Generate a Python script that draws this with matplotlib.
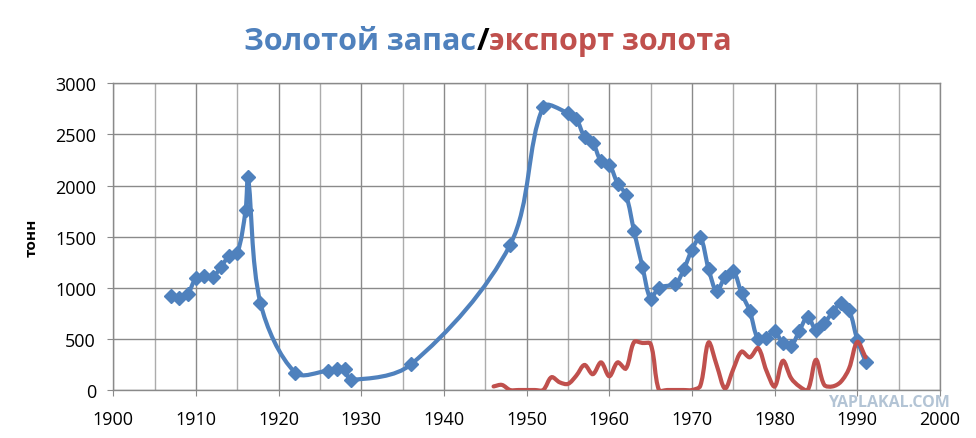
import numpy as np
import matplotlib
matplotlib.use('Agg')
import matplotlib.pyplot as plt
from matplotlib.path import Path
from matplotlib.patches import PathPatch
from matplotlib.offsetbox import TextArea, HPacker, AnchoredOffsetbox

plt.rcParams['font.family'] = ['Open Sans', 'DejaVu Sans']

# gold reserve, tonnes
reserve_years = [1907, 1908, 1909, 1910, 1911, 1912, 1913, 1914, 1915, 1916, 1916.3,
                 1917.8, 1922, 1926, 1927, 1928, 1928.7, 1936, 1948, 1952, 1955,
                 1956, 1957, 1958, 1959, 1960, 1961, 1962, 1963, 1964, 1965, 1966,
                 1968, 1969, 1970, 1971, 1972, 1973, 1974, 1975, 1976, 1977, 1978,
                 1979, 1980, 1981, 1982, 1983, 1984, 1985, 1986, 1987, 1988, 1989,
                 1990, 1991]
reserve = [920, 900, 940, 1095, 1120, 1105, 1200, 1310, 1340, 1760, 2080,
           850, 170, 190, 210, 210, 100, 250, 1420, 2770, 2710,
           2655, 2476, 2420, 2237, 2205, 2019, 1911, 1551, 1208, 895, 1000,
           1040, 1179, 1372, 1493, 1186, 965, 1107, 1160, 945, 770, 497,
           512, 575, 455, 435, 581, 717, 590, 655, 760, 847, 782,
           490, 277]

# gold export, tonnes
export_years = list(range(1946, 1992))
export = [35, 50, 0, 0, 0, 0, 0, 125, 75, 60, 140, 245, 155, 270, 135, 270,
          210, 470, 460, 450, 0, 0, 0, 0, 0, 40, 465, 240, 15, 205, 375, 320,
          410, 190, 35, 285, 115, 35, 0, 295, 50, 35, 80, 210, 470, 320]

blue = '#4F81BD'
red = '#C0504D'


def smooth_path(ax, xs, ys):
    # bezier through the points (excel-like "smoothed line"), built in pixel space
    tr = ax.transData
    p = tr.transform(np.column_stack([xs, ys]).astype(float))
    n = len(p)
    d = np.hypot(*np.diff(p, axis=0).T)
    verts = [p[0]]
    codes = [Path.MOVETO]
    for i in range(n - 1):
        p1, p2 = p[i], p[i + 1]
        if i > 0:
            c1 = p1 + (p2 - p[i - 1]) * d[i] / (3 * (d[i - 1] + d[i]))
        else:
            c1 = p1 + (p2 - p1) / 3
        if i + 2 < n:
            c2 = p2 - (p[i + 2] - p1) * d[i] / (3 * (d[i] + d[i + 1]))
        else:
            c2 = p2 - (p2 - p1) / 3
        verts += [c1, c2, p2]
        codes += [Path.CURVE4] * 3
    verts = tr.inverted().transform(np.array(verts))
    return Path(verts, codes)


fig = plt.figure(figsize=(9.76, 4.39), dpi=100)
ax = fig.add_axes([0.1161, 0.1093, 0.8470, 0.6987])
ax.set_xlim(1900, 2000)
ax.set_ylim(0, 3000)

ax.add_patch(PathPatch(smooth_path(ax, reserve_years, reserve), facecolor='none',
                       edgecolor=blue, lw=3, zorder=3, capstyle='round'))
ax.plot(reserve_years, reserve, 'D', color=blue, ms=7.5, zorder=4)
ax.add_patch(PathPatch(smooth_path(ax, export_years, export), facecolor='none',
                       edgecolor=red, lw=3, zorder=5, capstyle='round'))

ax.set_xticks(range(1900, 2001, 10))
ax.set_xticks(range(1905, 2000, 10), minor=True)
ax.set_yticks(range(0, 3001, 500))
ax.grid(True, which='major', color='#8a8a8a', lw=1)
ax.grid(True, which='minor', axis='x', color='#acacac', lw=1)
ax.set_axisbelow(True)
for s in ax.spines.values():
    s.set_color('#8a8a8a')
    s.set_linewidth(1)
ax.tick_params(axis='both', which='major', length=4.5, color='#8a8a8a',
               labelsize=13)
ax.tick_params(axis='x', which='major', pad=10)
ax.tick_params(axis='y', which='major', pad=8)
ax.tick_params(axis='x', which='minor', length=0)
ax.set_ylabel('тонн', fontsize=11, fontweight='bold', labelpad=12)

# two-colour title
tp = dict(fontsize=22, fontweight='bold')
parts = [TextArea('Золотой запас', textprops=dict(color=blue, **tp)),
         TextArea('/', textprops=dict(color='black', **tp)),
         TextArea('экспорт золота', textprops=dict(color=red, **tp))]
box = HPacker(children=parts, align='baseline', pad=0, sep=0)
anchored = AnchoredOffsetbox(loc='center', child=box, frameon=False,
                             bbox_to_anchor=(0.5, 0.905), bbox_transform=fig.transFigure)
fig.add_artist(anchored)

# site watermark
fig.text(0.973, 0.083, 'YAPLAKAL.COM', color='#b3c4d5', fontsize=11.5,
         fontweight='bold', ha='right', va='center')

fig.savefig('out.png', dpi=100)
